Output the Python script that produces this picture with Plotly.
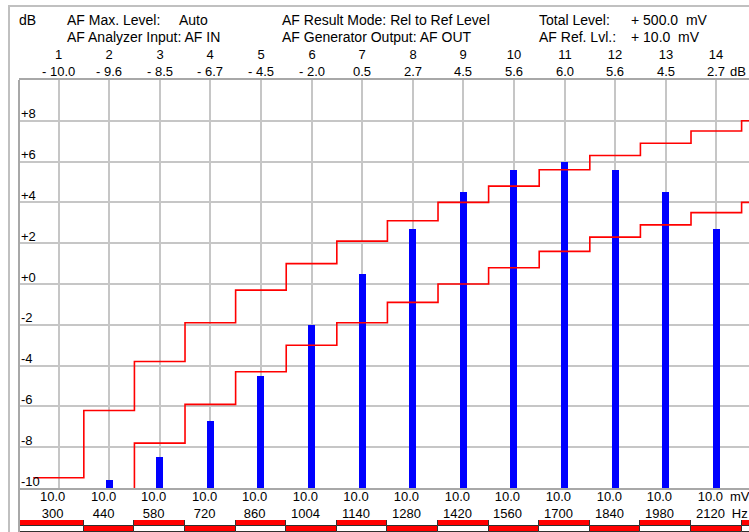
import plotly.graph_objects as go

# ---------------- data ----------------
channels = [1, 2, 3, 4, 5, 6, 7, 8, 9, 10, 11, 12, 13, 14]
level_db = [-10.0, -9.6, -8.5, -6.7, -4.5, -2.0, 0.5, 2.7, 4.5, 5.6, 6.0, 5.6, 4.5, 2.7]
gen_level_mv = [10.0, 10.0, 10.0, 10.0, 10.0, 10.0, 10.0, 10.0, 10.0, 10.0, 10.0, 10.0, 10.0, 10.0]
freq_hz = [300, 440, 580, 720, 860, 1004, 1140, 1280, 1420, 1560, 1700, 1840, 1980, 2120]

# tolerance mask per band (band 15 continues past the last channel)
bands = [1, 2, 3, 4, 5, 6, 7, 8, 9, 10, 11, 12, 13, 14, 15]
mask_upper_db = [-9.5, -6.2, -3.8, -1.9, -0.3, 1.0, 2.1, 3.1, 4.0, 4.8, 5.6, 6.3, 6.9, 7.5, 8.0]
mask_lower_db = [-13.5, -10.2, -7.8, -5.9, -4.3, -3.0, -1.9, -0.9, 0.0, 0.8, 1.6, 2.3, 2.9, 3.5, 4.0]

y_tick_vals = [-10, -8, -6, -4, -2, 0, 2, 4, 6, 8]
y_tick_text = ["-10", "-8", "-6", "-4", "-2", "+0", "+2", "+4", "+6", "+8"]

# ---------------- layout constants ----------------
W, H = 749, 532
M_L, M_T = 19, 80
PLOT_W = W - M_L
PLOT_H = H - M_T
GRID_BOTTOM_PX = 488
Y_MIN, Y_MAX = -10, 10
X_RANGE = [0.219, 14.646]

FONT = "Liberation Sans, Arial, sans-serif"
FS = 13
FS_HEAD = 14
GRID = "#c6c6c6"
BORDER = "#a8a8a8"


def paper_x(px):
    return (px - M_L) / PLOT_W


def paper_y(py):
    return (H - py) / PLOT_H


def db_text(v):
    return f"- {abs(v):.1f}" if v < 0 else f"{v:.1f}"


fig = go.Figure()

# measured levels as bars rising from the bottom of the scale
fig.add_trace(go.Bar(
    x=channels,
    y=[v - Y_MIN for v in level_db],
    base=Y_MIN,
    width=0.14,
    marker=dict(color="#0000ff", line=dict(width=0)),
    xaxis="x", yaxis="y",
    hoverinfo="skip",
))

# upper / lower mask as step lines, one level per band
edges = [b - 0.5 for b in bands] + [bands[-1] + 0.5]
for mask in (mask_upper_db, mask_lower_db):
    fig.add_trace(go.Scatter(
        x=edges,
        y=mask + [mask[-1]],
        mode="lines",
        line=dict(color="#ff0000", width=1.6, shape="hv"),
        xaxis="x", yaxis="y",
        hoverinfo="skip",
    ))

# two-row band indicator strip under the channel labels
left = [X_RANGE[0] - 0.05] + [b - 0.5 for b in bands[1:]]
right = [b + 0.5 for b in bands]
centers = [(l + r) / 2 for l, r in zip(left, right)]
widths = [r - l for l, r in zip(left, right)]
for row_base, red_when_odd in ((1, True), (0, False)):
    colors = ["#ff0000" if (b % 2 == 1) == red_when_odd else "#ffffff" for b in bands]
    fig.add_trace(go.Bar(
        x=centers, y=[1] * len(bands), base=row_base, width=widths,
        marker=dict(color=colors, line=dict(color="#303030", width=1)),
        xaxis="x", yaxis="y2", hoverinfo="skip",
    ))

annotations = []


def note(text, x, y, xref="paper", yref="paper", xanchor="left", size=FS, **kw):
    annotations.append(dict(
        text=text, x=x, y=y, xref=xref, yref=yref,
        xanchor=xanchor, yanchor="middle", showarrow=False, borderpad=0,
        font=dict(family=FONT, size=size, color="#000000"), **kw))


# header block
note("dB", paper_x(18), paper_y(20), size=FS_HEAD)
note("AF Max. Level:", paper_x(66), paper_y(20), size=FS_HEAD)
note("Auto", paper_x(178), paper_y(20), size=FS_HEAD)
note("AF Analyzer Input: AF IN", paper_x(66), paper_y(37), size=FS_HEAD)
note("AF Result Mode: Rel to Ref Level", paper_x(281), paper_y(20), size=FS_HEAD)
note("AF Generator Output: AF OUT", paper_x(281), paper_y(37), size=FS_HEAD)
note("Total Level:", paper_x(538), paper_y(20), size=FS_HEAD)
note("+ 500.0\u00a0\u00a0mV", paper_x(630), paper_y(20), size=FS_HEAD)
note("AF Ref. Lvl.:", paper_x(538), paper_y(37), size=FS_HEAD)
note("+ 10.0\u00a0\u00a0mV", paper_x(630), paper_y(37), size=FS_HEAD)

# scale labels sitting just above their grid lines
for val, txt in zip(y_tick_vals, y_tick_text):
    note(txt, paper_x(20), val, yref="y", yshift=7)

# channel numbers and levels above the grid
for ch, v in zip(channels, level_db):
    note(f"{ch}<br>{db_text(v)}", ch, paper_y(63.5), xref="x", xanchor="center")
note("dB", paper_x(729), paper_y(72))

# generator level and frequency below the grid
for ch, mv, f in zip(channels, gen_level_mv, freq_hz):
    note(f"{mv:.1f}<br>{f}", ch, paper_y(504.5), xref="x", xanchor="center", xshift=-6)
note("mV<br>Hz", paper_x(729), paper_y(504.5))

shapes = [
    # outer panel frame
    dict(type="line", xref="paper", yref="paper",
         x0=paper_x(8), x1=paper_x(760), y0=paper_y(6), y1=paper_y(6),
         line=dict(color="#c0c0c0", width=2)),
    dict(type="line", xref="paper", yref="paper",
         x0=paper_x(9), x1=paper_x(9), y0=paper_y(6), y1=paper_y(540),
         line=dict(color="#c0c0c0", width=2)),
    # left border of the grid, running down to the strip
    dict(type="line", xref="paper", yref="paper",
         x0=0, x1=0, y0=paper_y(540), y1=1,
         line=dict(color=BORDER, width=2)),
]

fig.update_layout(
    width=W, height=H,
    margin=dict(l=M_L, r=0, t=M_T, b=0, pad=0),
    paper_bgcolor="#ffffff",
    plot_bgcolor="#ffffff",
    showlegend=False,
    barmode="overlay",
    bargap=0,
    font=dict(family=FONT, size=FS, color="#000000"),
    xaxis=dict(
        range=X_RANGE, tickvals=channels, showticklabels=False,
        showgrid=True, gridcolor=GRID, gridwidth=1.5,
        showline=True, linecolor=BORDER, linewidth=2, mirror=True,
        ticks="", zeroline=False, anchor="y", fixedrange=True,
    ),
    yaxis=dict(
        domain=[paper_y(GRID_BOTTOM_PX), 1],
        range=[Y_MIN, Y_MAX],
        tickvals=y_tick_vals, showticklabels=False,
        showgrid=True, gridcolor=GRID, gridwidth=1.5,
        showline=False, ticks="", zeroline=False, fixedrange=True,
    ),
    yaxis2=dict(
        domain=[0, paper_y(520)], range=[0, 2],
        visible=False, anchor="x", fixedrange=True,
    ),
    annotations=annotations,
    shapes=shapes,
)

fig.write_html("out.html")
